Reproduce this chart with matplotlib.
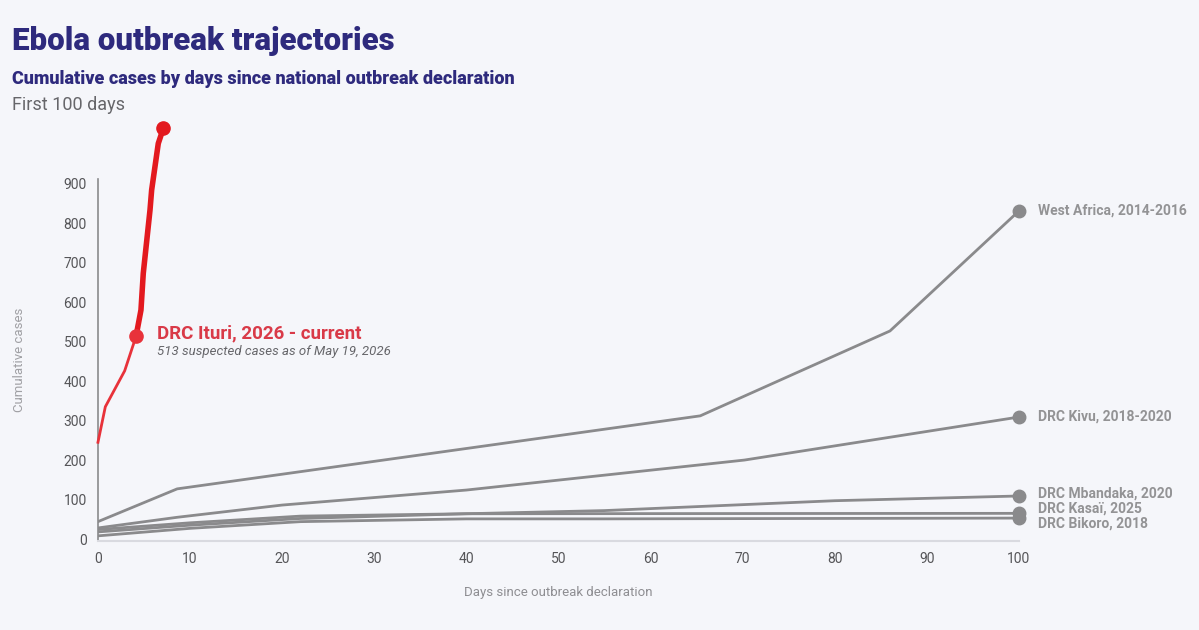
import matplotlib.pyplot as plt

plt.rcParams["font.family"] = ["Roboto", "DejaVu Sans"]

# =====================================
# Data
# =====================================

ituri_days = [0, 0.8, 2.9, 4.13]
ituri_cases = [245, 335, 426, 513]

ituri_susp_days = [4.13, 4.67, 4.92, 5.65, 5.83, 6.55, 7.09]
ituri_susp_cases = [513, 580, 673, 833, 884, 1002, 1040]

west_africa_days = [0, 8.6, 65.4, 86, 100]
west_africa_cases = [44, 127, 312, 527, 831]

kivu_days = [0, 8.6, 20, 40, 70.2, 100]
kivu_cases = [28, 55, 86, 124, 200, 309]

mbandaka_days = [0, 10, 22, 40, 55, 65, 80, 100]
mbandaka_cases = [18, 35, 52, 64, 72, 82, 97, 109]

kasai_days = [0, 10, 22, 40, 100]
kasai_cases = [24, 41, 58, 64, 65]

bikoro_days = [0, 10, 22, 40, 55, 100]
bikoro_cases = [8, 27, 44, 51, 51, 53]

gray_series = [
    ("West Africa, 2014-2016", west_africa_days, west_africa_cases, 0),
    ("DRC Kivu, 2018-2020", kivu_days, kivu_cases, 0),
    ("DRC Mbandaka, 2020", mbandaka_days, mbandaka_cases, 1.5),
    ("DRC Kasaï, 2025", kasai_days, kasai_cases, 3.6),
    ("DRC Bikoro, 2018", bikoro_days, bikoro_cases, -3.6),
]

x_ticks = [0, 10, 20, 30, 40, 50, 60, 70, 80, 90, 100]
y_ticks = [0, 100, 200, 300, 400, 500, 600, 700, 800, 900]

# =====================================
# Figure
# =====================================

bg = "#f5f6fa"
gray = "#8a8a8c"
red = "#e3191f"
purple = "#2e2a7d"

fig = plt.figure(figsize=(11.99, 6.3), dpi=100, facecolor=bg)
ax = fig.add_axes([0.0817, 0.1413, 0.7681, 0.5746])
ax.set_facecolor(bg)

for name, days, cases, dy in gray_series:
    ax.plot(days, cases, color=gray, linewidth=2, solid_capstyle="round", zorder=2)
    ax.plot(days[-1], cases[-1], "o", color=gray, markersize=9, zorder=3,
            clip_on=False)
    ax.annotate(name, (days[-1], cases[-1]), xytext=(14, dy),
                textcoords="offset points", va="center", ha="left",
                fontsize=10, fontweight="bold", color="#939395",
                annotation_clip=False)

ax.plot(ituri_days, ituri_cases, color="#e8323a", linewidth=2, zorder=4,
        clip_on=False)
ax.plot(ituri_susp_days, ituri_susp_cases, color=red, linewidth=4,
        solid_capstyle="round", zorder=5, clip_on=False)
ax.plot(ituri_susp_days[-1], ituri_susp_cases[-1], "o", color=red,
        markersize=9.5, zorder=6, clip_on=False)
ax.plot(ituri_days[-1], ituri_cases[-1], "o", color="#e8323a",
        markersize=9.5, zorder=6, clip_on=False)

ax.annotate("DRC Ituri, 2026 - current", (ituri_days[-1], ituri_cases[-1]),
            xytext=(15, 2.5), textcoords="offset points", va="center",
            fontsize=13.5, fontweight="bold", color="#d93a48",
            annotation_clip=False)
ax.annotate("513 suspected cases as of May 19, 2026",
            (ituri_days[-1], ituri_cases[-1]),
            xytext=(15, -11), textcoords="offset points", va="center",
            fontsize=9.5, fontstyle="italic", color="#66666a",
            annotation_clip=False)

ax.set_xlim(0, 100)
ax.set_ylim(-5, 912)
ax.set_xticks(x_ticks)
ax.set_yticks(y_ticks)
ax.tick_params(length=0, labelsize=10, labelcolor="#555558")
ax.tick_params(axis="x", pad=8)
ax.tick_params(axis="y", pad=8)

for side in ["top", "right"]:
    ax.spines[side].set_visible(False)
ax.spines["left"].set_color("#8a8a8c")
ax.spines["left"].set_linewidth(1.2)
ax.spines["bottom"].set_color("#d9dae0")
ax.spines["bottom"].set_linewidth(1.5)

ax.set_xlabel("Days since outbreak declaration", fontsize=9.5,
              color="#8e8e92", labelpad=14)
ax.set_ylabel("Cumulative cases", fontsize=9.5, color="#a0a0a4", labelpad=27)

# =====================================
# Titles
# =====================================

fig.text(0.01, 0.935, "Ebola outbreak trajectories", fontsize=22.5,
         fontweight="black", color=purple, va="center", ha="left")
fig.text(0.01, 0.874, "Cumulative cases by days since national outbreak declaration",
         fontsize=13, fontweight="black", color=purple, va="center", ha="left")
fig.text(0.01, 0.834, "First 100 days", fontsize=13, color="#66666a",
         va="center", ha="left")

fig.savefig("out.png", dpi=100, facecolor=bg)
